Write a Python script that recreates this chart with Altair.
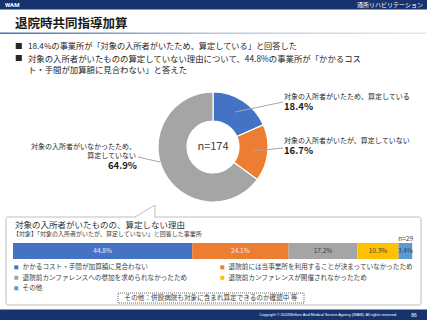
import altair as alt
import pandas as pd

FONT = "Noto Sans CJK JP"

# ---- data ----
donut_labels = [
    "対象の入所者がいたため、算定している",
    "対象の入所者がいたが、算定していない",
    "対象の入所者がいなかったため、算定していない",
]
donut_values = [18.4, 16.7, 64.9]
donut_colors = ["#4472C4", "#ED7D31", "#A5A5A5"]
donut_n = "n=174"

reason_labels = [
    "かかるコスト・手間が加算額に見合わない",
    "退院前には当事業所を利用することが決まっていなかったため",
    "退院前カンファレンスへの参加を求められなかったため",
    "退院前カンファレンスが開催されなかったため",
    "その他",
]
reason_values = [44.8, 24.1, 17.2, 10.3, 3.4]
reason_colors = ["#4472C4", "#ED7D31", "#A5A5A5", "#FFC000", "#5B9BD5"]
reason_n = "n=29"
# legend entries are laid out column by column (3 rows x 2 columns)
legend_order = [reason_labels[0], reason_labels[2], reason_labels[4],
                reason_labels[1], reason_labels[3]]

header_left = "WAM"
header_right = "通所リハビリテーション"
slide_title = "退院時共同指導加算"
bullet_lines = [
    "18.4%の事業所が「対象の入所者がいたため、算定している」と回答した",
    "対象の入所者がいたものの算定していない理由について、44.8%の事業所が「かかるコス",
    "ト・手間が加算額に見合わない」と答えた",
]
box_title = "対象の入所者がいたものの、算定しない理由"
box_subtitle = "【対象】「対象の入所者がいたが、算定していない」と回答した事業所"
note_text = "その他：併設病院も対象に含まれ算定できるのか確認中 等"
footer_text = "Copyright © 2024Welfare And Medical Service Agency (WAM). All rights reserved."
page_no = "86"

donut_df = pd.DataFrame({"label": donut_labels, "value": donut_values,
                         "order": list(range(len(donut_labels)))})
reason_df = pd.DataFrame({"label": reason_labels, "value": reason_values,
                          "order": list(range(len(reason_labels)))})

NAVY = "#17336e"


def deco():
    return alt.Chart(alt.Data(values=[{}]))


def txt(s, x, y, size=7, color="#262626", align="left", weight="normal", baseline="middle", font=FONT):
    return deco().mark_text(text=s, align=align, baseline=baseline, fontSize=size,
                            font=font, color=color, fontWeight=weight).encode(
        x=alt.value(x), y=alt.value(y))


def rule(x1, y1, x2, y2, color="#a6a6a6", w=1.0):
    return deco().mark_rule(color=color, strokeWidth=w).encode(
        x=alt.value(x1), y=alt.value(y1), x2=alt.value(x2), y2=alt.value(y2))


layers = []

# header
layers.append(deco().mark_rect(color=NAVY).encode(
    x=alt.value(0), x2=alt.value(427), y=alt.value(0), y2=alt.value(9.5)))
layers.append(txt(header_left, 5, 5, size=6, color="white", weight="bold", font="Roboto"))
layers.append(txt(header_right, 423, 5, size=6, color="white", align="right"))

# title
layers.append(txt(slide_title, 15, 23.5, size=12.5, color="#1a1a1a", weight="bold"))
grad = alt.Gradient(gradient="linear",
                    stops=[alt.GradientStop(color="#4a6cb3", offset=0),
                           alt.GradientStop(color="#b8c6e0", offset=0.5),
                           alt.GradientStop(color="#e4e9f2", offset=1)],
                    x1=0, x2=1, y1=0, y2=0)
layers.append(deco().mark_rect(fill=grad).encode(
    x=alt.value(0), x2=alt.value(427), y=alt.value(32.5), y2=alt.value(34)))

# bullets
layers.append(txt("■", 15, 47, size=7.5))
layers.append(txt(bullet_lines[0], 28, 47, size=8.2))
layers.append(txt("■", 15, 59, size=7.5))
layers.append(txt(bullet_lines[1], 28, 59, size=8.4))
layers.append(txt(bullet_lines[2], 28, 70, size=8.4))

# donut
CX, CY = 213, 147
donut = alt.Chart(donut_df).mark_arc(innerRadius=26, outerRadius=55, stroke="white",
                                    strokeWidth=1.2).encode(
    theta=alt.Theta("value:Q", stack=True),
    order=alt.Order("order:Q"),
    color=alt.Color("label:N", scale=alt.Scale(domain=donut_labels, range=donut_colors),
                    legend=None),
    x=alt.value(CX), y=alt.value(CY))
layers.append(donut)
layers.append(txt(donut_n, CX, CY, size=11, color="#404040", align="center"))

# leader lines
layers.append(rule(235, 112, 283, 102))
layers.append(rule(253, 151, 283, 148))
layers.append(rule(138, 157, 160, 162))

dl = alt.Chart(donut_df).transform_calculate(
    pct="format(datum.value, '.1f') + '%'")


def donut_label(i, x, y_label, y_pct, align):
    base = dl.transform_filter(f"datum.order == {i}")
    lab = base.mark_text(align=align, baseline="middle", fontSize=7, font=FONT,
                         color="#262626").encode(
        text="label:N", x=alt.value(x), y=alt.value(y_label))
    pct = base.mark_text(align=align, baseline="middle", fontSize=9.5, font=FONT,
                         fontWeight="bold", color="#1a1a1a").encode(
        text="pct:N", x=alt.value(x), y=alt.value(y_pct))
    return [lab, pct]


layers += donut_label(0, 284, 96.5, 107, "left")
layers += donut_label(1, 284, 140.5, 151, "left")
# left label split in 2 lines
left_base = dl.transform_filter("datum.order == 2").transform_calculate(
    lines="[substring(datum.label, 0, 15), substring(datum.label, 15)]")
layers.append(left_base.mark_text(align="right", baseline="top", fontSize=7, font=FONT,
                                  color="#262626", lineHeight=9).encode(
    text="lines:N", x=alt.value(136), y=alt.value(142.5)))
layers.append(left_base.mark_text(align="right", baseline="middle", fontSize=9.5, font=FONT,
                                  fontWeight="bold", color="#1a1a1a").encode(
    text="pct:N", x=alt.value(137), y=alt.value(166)))

# callout box
layers.append(deco().mark_rect(fill="white", stroke="#bfbfbf", strokeWidth=1,
                               cornerRadius=2).encode(
    x=alt.value(6), x2=alt.value(421), y=alt.value(217), y2=alt.value(305)))
layers.append(rule(136, 217, 154.5, 217, color="white", w=2))
layers.append(rule(135, 217, 155, 205, color="#bfbfbf"))
layers.append(rule(155, 205, 155, 217, color="#bfbfbf"))

layers.append(txt(box_title, 15, 225, size=8.5, color="#333333"))
layers.append(txt(box_subtitle, 13, 233.5, size=6, color="#404040"))
layers.append(txt(reason_n, 413, 239, size=6.5, color="#404040", align="right"))

# stacked bar
xs = alt.Scale(domain=[0, 100], range=[13, 413])
bar_base = alt.Chart(reason_df).transform_stack(
    stack="value", groupby=[], as_=["start", "end"],
    sort=[alt.SortField("order", order="ascending")]).transform_calculate(
    mid="(datum.start + datum.end) / 2",
    pct="format(datum.value, '.1f') + '%'")
bars = bar_base.mark_rect().encode(
    x=alt.X("start:Q", scale=xs, axis=None),
    x2="end:Q",
    y=alt.value(243), y2=alt.value(259),
    color=alt.Color("label:N",
                    scale=alt.Scale(domain=reason_labels, range=reason_colors),
                    legend=alt.Legend(orient="none", legendX=13, legendY=264, columns=2,
                                      values=legend_order,
                                      symbolType="square", symbolSize=16,
                                      symbolStrokeWidth=0, labelFontSize=6.6,
                                      labelFont=FONT, labelColor="#404040",
                                      labelLimit=400, columnPadding=31, rowPadding=3.5,
                                      labelOffset=3, title=None, padding=0)))
layers.append(bars)
layers.append(bar_base.transform_filter("datum.order < 2").mark_text(
    fontSize=6.5, font=FONT, color="#e9edf6", baseline="middle", align="center").encode(
    x=alt.X("mid:Q", scale=xs, axis=None), y=alt.value(251), text="pct:N"))
layers.append(bar_base.transform_filter("datum.order >= 2").mark_text(
    fontSize=6.5, font=FONT, color="#404040", baseline="middle", align="center").encode(
    x=alt.X("mid:Q", scale=xs, axis=None), y=alt.value(251), text="pct:N"))

# note box
layers.append(deco().mark_rect(fill="white", stroke="#404040", strokeWidth=0.8,
                               strokeDash=[1, 1]).encode(
    x=alt.value(118), x2=alt.value(304), y=alt.value(293), y2=alt.value(303)))
layers.append(txt(note_text, 211, 298, size=6.6, color="#404040", align="center"))

# footer
layers.append(deco().mark_rect(color=NAVY).encode(
    x=alt.value(0), x2=alt.value(427), y=alt.value(309.5), y2=alt.value(320)))
layers.append(txt(footer_text, 397, 315, size=3.8, color="white", align="right",
                  font="Liberation Sans"))
layers.append(txt(page_no, 414, 315, size=5, color="white", align="center",
                  font="Liberation Sans"))

chart = alt.layer(*layers).resolve_scale(color="independent", theta="independent").properties(
    width=427, height=320, padding=0, autosize=alt.AutoSizeParams(type="none"),
    background="white").configure_view(strokeWidth=0)

chart.save("out.html", embed_options={"renderer": "svg", "actions": False})
